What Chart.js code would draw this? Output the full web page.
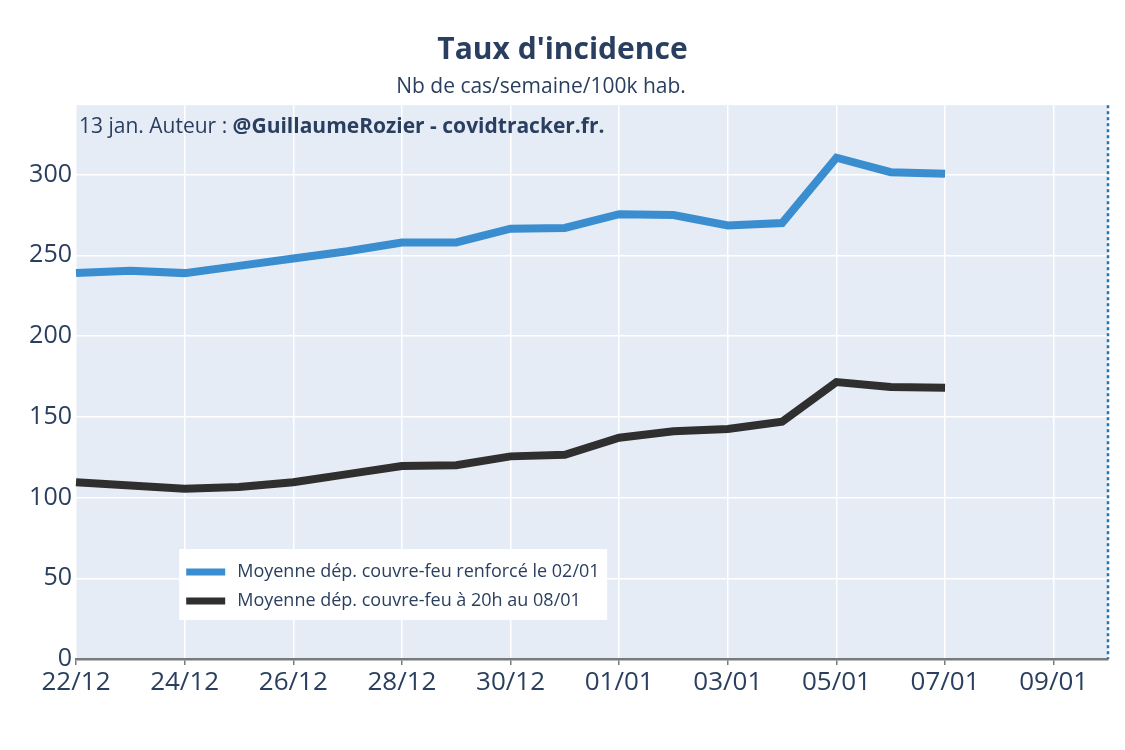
<!DOCTYPE html>
<html>
<head>
<meta charset="utf-8">
<script src="https://cdn.jsdelivr.net/npm/chart.js@4"></script>
<style>
  body { margin: 0; background: #fff; }
  #wrap { width: 1125px; height: 750px; }
</style>
</head>
<body>
<div id="wrap"><canvas id="myChart"></canvas></div>
<script>
const days = ['22/12', '23/12', '24/12', '25/12', '26/12', '27/12', '28/12', '29/12', '30/12', '31/12',
  '01/01', '02/01', '03/01', '04/01', '05/01', '06/01', '07/01', '08/01', '09/01', '10/01'];
const renforce = [239, 240.5, 239, 243.5, 248, 252.5, 258, 258, 266.5, 267,
  275.5, 275, 268.5, 270, 310.5, 301.5, 300.5, null, null, null];
const vingtHeures = [109.5, 107.5, 105.5, 106.5, 109.5, 114.5, 119.5, 120, 125.5, 126.5,
  137, 141, 142.5, 147, 171.5, 168.5, 168, null, null, null];
const seriesNames = ['Moyenne dép. couvre-feu renforcé le 02/01', 'Moyenne dép. couvre-feu à 20h au 08/01'];
const yTicks = [0, 50, 100, 150, 200, 250, 300];
const subtitleText = 'Nb de cas/semaine/100k hab.';

const ink = '#2a3f5f';
const font = '"Open Sans", "Noto Sans", sans-serif';

const plotBg = {
  id: 'plotBg',
  beforeDraw(chart) {
    const { ctx, chartArea: a } = chart;
    ctx.save();
    ctx.fillStyle = '#e5ecf6';
    ctx.fillRect(a.left, a.top, a.right - a.left, a.bottom - a.top);
    ctx.restore();
  }
};

const extras = {
  id: 'extras',
  afterDraw(chart) {
    const { ctx, chartArea: a } = chart;
    ctx.save();
    // subtitle, sits a bit left of the title
    const sub = chart.boxes.find(b => b.options && b.options.text === subtitleText);
    const subY = sub ? sub.top + sub.height / 2 - 3 : a.top - 19;
    ctx.fillStyle = ink;
    ctx.font = '21px ' + font;
    ctx.textAlign = 'center';
    ctx.textBaseline = 'middle';
    ctx.fillText(subtitleText, 541, subY);

    // dotted line at the end of the x range
    const xr = chart.scales.x.getPixelForValue(days.length - 1);
    ctx.strokeStyle = '#1f77b4';
    ctx.lineWidth = 2.5;
    ctx.setLineDash([3, 3]);
    ctx.beginPath();
    ctx.moveTo(xr, a.top);
    ctx.lineTo(xr, a.bottom);
    ctx.stroke();
    ctx.setLineDash([]);

    // author note
    ctx.fillStyle = ink;
    ctx.textBaseline = 'alphabetic';
    ctx.textAlign = 'left';
    ctx.font = '21px ' + font;
    const t1 = '13 jan. Auteur : ';
    ctx.fillText(t1, a.left + 3, a.top + 28);
    const w1 = ctx.measureText(t1).width;
    ctx.font = 'bold 21px ' + font;
    ctx.fillText('@GuillaumeRozier - covidtracker.fr.', a.left + 3 + w1, a.top + 28);

    // legend box
    const w = a.right - a.left;
    const bx = a.left + 0.1 * w, by = a.bottom - 110, bw = 428, bh = 71;
    ctx.fillStyle = '#fff';
    ctx.fillRect(bx, by, bw, bh);
    ctx.font = '18px ' + font;
    ctx.textBaseline = 'middle';
    chart.data.datasets.forEach((ds, i) => {
      const y = by + 23 + i * 29;
      ctx.strokeStyle = ds.borderColor;
      ctx.lineWidth = 7;
      ctx.beginPath();
      ctx.moveTo(bx + 7, y);
      ctx.lineTo(bx + 46, y);
      ctx.stroke();
      ctx.fillStyle = ink;
      ctx.fillText(ds.label, bx + 58, y);
    });
    ctx.restore();
  }
};

new Chart(document.getElementById('myChart'), {
  type: 'line',
  data: {
    labels: days,
    datasets: [{
      label: seriesNames[0],
      data: renforce,
      borderColor: '#3a8dcf',
      borderWidth: 8,
      pointRadius: 0,
      tension: 0
    }, {
      label: seriesNames[1],
      data: vingtHeures,
      borderColor: '#2f2f2f',
      borderWidth: 8,
      pointRadius: 0,
      tension: 0
    }]
  },
  options: {
    responsive: true,
    maintainAspectRatio: false,
    animation: false,
    layout: { padding: { left: 17, right: 17, top: 0, bottom: 0 } },
    plugins: {
      legend: { display: false },
      tooltip: { enabled: false },
      title: {
        display: true,
        text: "Taux d'incidence",
        color: ink,
        font: { family: font, size: 30, weight: 'bold' },
        padding: { top: 32, bottom: 6 }
      },
      subtitle: {
        // space only; text is drawn by the extras plugin
        display: true,
        text: subtitleText,
        color: 'rgba(0,0,0,0)',
        font: { family: font, size: 21 },
        padding: { top: 0, bottom: 6 }
      }
    },
    scales: {
      x: {
        offset: false,
        border: { display: true, color: '#7a7a7a', width: 2.5 },
        grid: { color: '#ffffff', lineWidth: 1.5, tickColor: '#7a7a7a', tickLength: 6, drawOnChartArea: true },
        ticks: {
          autoSkip: false,
          maxRotation: 0,
          color: ink,
          font: { family: font, size: 26 },
          padding: 2,
          callback(v, i) { return i % 2 === 0 ? days[i] : null; }
        },
        afterFit(s) { s.height = 91; }
      },
      y: {
        min: 0,
        max: 343,
        border: { display: false },
        grid: { color: '#ffffff', lineWidth: 1.5, drawTicks: false },
        afterBuildTicks(s) { s.ticks = yTicks.map(v => ({ value: v })); },
        ticks: {
          color: ink,
          font: { family: font, size: 25 },
          padding: 4
        },
        afterFit(s) { s.width = 59; }
      }
    }
  },
  plugins: [plotBg, extras]
});
</script>
</body>
</html>
